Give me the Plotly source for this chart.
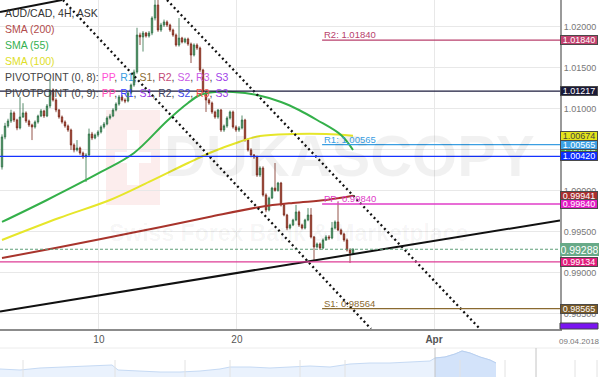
import plotly.graph_objects as go

# ---------------- data ----------------
bar_index = list(range(118))
opens = [1.00292, 1.00658, 1.00792, 1.00853, 1.00951, 1.00865, 1.00768, 1.00902, 1.00951, 1.00853,
         1.00804, 1.00780, 1.00841, 1.00914, 1.00975, 1.00914, 1.01036, 1.01231, 1.01109, 1.00987,
         1.00902, 1.00841, 1.00792, 1.00743, 1.00560, 1.00499, 1.00523, 1.00462, 1.00414, 1.00438,
         1.00694, 1.00645, 1.00682, 1.00719, 1.00780, 1.00816, 1.00889, 1.00914, 1.00987, 1.01060,
         1.01146, 1.01109, 1.01097, 1.01194, 1.01292, 1.01451, 1.01902, 1.01878, 1.01926, 1.01890,
         1.01926, 1.02109, 1.02268, 1.01963, 1.02024, 1.02061, 1.02024, 1.01963, 1.01902, 1.01780,
         1.01865, 1.01817, 1.01853, 1.01792, 1.01658, 1.01780, 1.01743, 1.01475, 1.01207, 1.01109,
         1.01072, 1.00963, 1.00902, 1.00987, 1.00743, 1.00792, 1.00889, 1.00963, 1.00780, 1.00743,
         1.00768, 1.00865, 1.00621, 1.00499, 1.00438, 1.00414, 1.00194, 1.00279, 0.99950, 0.99767,
         0.99913, 1.00035, 1.00005, 1.00096, 0.99828, 0.99706, 0.99547, 0.99584, 0.99645, 0.99743,
         0.99584, 0.99547, 0.99645, 0.99706, 0.99438, 0.99316, 0.99352, 0.99303, 0.99401, 0.99438,
         0.99425, 0.99547, 0.99621, 0.99523, 0.99474, 0.99401, 0.99279, 0.99242]
highs = [1.00690, 1.00830, 1.00880, 1.00990, 1.00970, 1.00880, 1.01146, 1.01070, 1.00970, 1.00870,
         1.00820, 1.00860, 1.00930, 1.01000, 1.00990, 1.01060, 1.01353, 1.01250, 1.01130, 1.01000,
         1.00920, 1.00860, 1.00810, 1.00760, 1.00580, 1.00620, 1.00540, 1.00480, 1.00460, 1.00760,
         1.00720, 1.00700, 1.00740, 1.00800, 1.00840, 1.00910, 1.00940, 1.01010, 1.01080, 1.01170,
         1.01170, 1.01130, 1.01210, 1.01310, 1.01480, 1.01990, 1.01930, 1.01950, 1.01940, 1.01950,
         1.02130, 1.02400, 1.02330, 1.02050, 1.02090, 1.02080, 1.02040, 1.01980, 1.01920, 1.02109,
         1.01880, 1.01870, 1.01870, 1.01810, 1.01800, 1.01800, 1.01760, 1.01490, 1.01230, 1.01130,
         1.01090, 1.00980, 1.01000, 1.01000, 1.00810, 1.00910, 1.00980, 1.00980, 1.00800, 1.00790,
         1.00920, 1.00880, 1.00640, 1.00520, 1.00450, 1.00430, 1.00300, 1.00300, 0.99970, 0.99930,
         1.00050, 1.00340, 1.00110, 1.00110, 0.99840, 0.99720, 0.99600, 0.99660, 0.99830, 0.99760,
         0.99600, 0.99660, 0.99790, 0.99790, 0.99450, 0.99370, 0.99370, 0.99420, 0.99460, 0.99460,
         0.99621, 0.99640, 0.99865, 0.99540, 0.99490, 0.99420, 0.99300, 0.99300]
lows = [1.00260, 1.00630, 1.00770, 1.00830, 1.00840, 1.00740, 1.00750, 1.00890, 1.00830, 1.00780,
        1.00620, 1.00760, 1.00820, 1.00900, 1.00890, 1.00900, 1.01010, 1.01090, 1.00960, 1.00880,
        1.00820, 1.00770, 1.00720, 1.00500, 1.00470, 1.00480, 1.00440, 1.00390, 1.00109, 1.00420,
        1.00620, 1.00630, 1.00660, 1.00700, 1.00760, 1.00800, 1.00870, 1.00900, 1.00970, 1.01040,
        1.01090, 1.01070, 1.01080, 1.01180, 1.01270, 1.01430, 1.01780, 1.01700, 1.01870, 1.01870,
        1.01900, 1.02080, 1.01940, 1.01940, 1.02000, 1.02000, 1.01940, 1.01880, 1.01760, 1.01760,
        1.01800, 1.01800, 1.01770, 1.01560, 1.01640, 1.01720, 1.01450, 1.01180, 1.00963, 1.01050,
        1.00940, 1.00880, 1.00880, 1.00720, 1.00720, 1.00770, 1.00870, 1.00760, 1.00720, 1.00720,
        1.00750, 1.00600, 1.00480, 1.00410, 1.00390, 1.00170, 1.00170, 0.99930, 0.99740, 0.99750,
        0.99900, 0.99990, 0.99990, 0.99810, 0.99690, 0.99520, 0.99530, 0.99570, 0.99630, 0.99560,
        0.99530, 0.99530, 0.99630, 0.99420, 0.99157, 0.99300, 0.99280, 0.99290, 0.99390, 0.99400,
        0.99410, 0.99530, 0.99510, 0.99460, 0.99380, 0.99260, 0.99120, 0.99230]
closes = [1.00658, 1.00792, 1.00853, 1.00951, 1.00865, 1.00768, 1.00902, 1.00951, 1.00853, 1.00804,
          1.00780, 1.00841, 1.00914, 1.00975, 1.00914, 1.01036, 1.01231, 1.01109, 1.00987, 1.00902,
          1.00841, 1.00792, 1.00743, 1.00560, 1.00499, 1.00523, 1.00462, 1.00414, 1.00438, 1.00694,
          1.00645, 1.00682, 1.00719, 1.00780, 1.00816, 1.00889, 1.00914, 1.00987, 1.01060, 1.01146,
          1.01109, 1.01097, 1.01194, 1.01292, 1.01451, 1.01902, 1.01878, 1.01926, 1.01890, 1.01926,
          1.02109, 1.02268, 1.01963, 1.02024, 1.02061, 1.02024, 1.01963, 1.01902, 1.01780, 1.01865,
          1.01817, 1.01853, 1.01792, 1.01658, 1.01780, 1.01743, 1.01475, 1.01207, 1.01109, 1.01072,
          1.00963, 1.00902, 1.00987, 1.00743, 1.00792, 1.00889, 1.00963, 1.00780, 1.00743, 1.00768,
          1.00865, 1.00621, 1.00499, 1.00438, 1.00414, 1.00194, 1.00279, 0.99950, 0.99767, 0.99913,
          1.00035, 1.00005, 1.00096, 0.99828, 0.99706, 0.99547, 0.99584, 0.99645, 0.99743, 0.99584,
          0.99547, 0.99645, 0.99706, 0.99438, 0.99316, 0.99352, 0.99303, 0.99401, 0.99438, 0.99425,
          0.99547, 0.99621, 0.99523, 0.99474, 0.99401, 0.99279, 0.99242, 0.99288]

sma200_x = [0, 16, 33, 53, 69, 86, 97, 108, 117]
sma200_y = [0.99181, 0.99291, 0.99413, 0.99560, 0.99682, 0.99804, 0.99853, 0.99889, 0.99941]
sma55_x = [0, 15, 33, 44, 55, 62, 66, 71, 77, 85, 93, 99, 105, 113, 117]
sma55_y = [0.99621, 0.99889, 1.00231, 1.00463, 1.00853, 1.01072, 1.01170, 1.01207, 1.01207,
           1.01170, 1.01085, 1.00987, 1.00865, 1.00682, 1.00499]
sma100_x = [0, 19, 36, 49, 62, 70, 79, 86, 97, 108, 117]
sma100_y = [0.99401, 0.99669, 0.99889, 1.00109, 1.00340, 1.00475, 1.00597, 1.00670, 1.00694,
            1.00694, 1.00674]

pivot_names = ["R2", "R1", "PP", "S1"]
pivot_values = [1.01840, 1.00565, 0.99840, 0.98564]
pivot_colors = ["#b8416c", "#3a9ee2", "#e03cc8", "#8a6a30"]
pivot_start = 106.7

level_values = [1.01217, 1.00420, 0.99134]
level_colors = ["#1c1c3e", "#1433ff", "#de3c96"]
current_price = 0.99288

trend_x = [-0.667, 186.0]
trend_y = [0.98529, 0.99639]
trend2_x = [-0.667, 20.0]
trend2_y = [1.02183, 1.02329]
chan_lo_x = [20.3, 123.0]
chan_lo_y = [1.02329, 0.98317]
chan_hi_x = [55.0, 159.3]
chan_hi_y = [1.02329, 0.98317]

tick_pos = [32.3, 78.3, 144.0]
tick_text = ["10", "20", "<b>Apr</b>"]

price_labels = [1.01840, 1.01217, 1.00674, 1.00499, 1.00565, 1.00420, 0.99941, 0.99840, 0.99134, 0.98565]
price_label_bg = ["#c2416e", "#1a1a38", "#e4e41c", "#3cb44b", "#3ba0e4", "#0a2cff", "#a82e2e",
                  "#e21cc4", "#e21c7c", "#7a5a28"]
price_label_fg = ["white", "white", "#444444", "white", "white", "white", "white", "white", "white", "white"]

nav_t = [0, 20, 40, 60, 80, 100, 112, 118, 140, 160, 180, 200, 220, 230, 250, 270, 290, 310, 330, 350,
         370, 390, 410, 430, 435, 445, 455, 462, 470, 480, 490, 496]
nav_v = [8, 7, 9, 10, 11, 12, 12, 7, 6, 5, 5, 6, 8, 10, 10, 9, 10, 11, 10, 13,
         14, 14, 15, 16, 19, 20, 23, 26, 24, 20, 17, 14]
nav_sel_start = 435

# ---------------- geometry helpers (layout only) ----------------
W, H = 600, 377
PW = 560
TOP = 1.02329
BOT = 0.98315
XMIN, XMAX = -0.667, 186.0


def pxx(px):
    return px / PW


def pxy(py):
    return 1 - py / H


FONT = "Liberation Sans, Arial, sans-serif"

fig = go.Figure()

fig.add_trace(go.Candlestick(
    x=bar_index, open=opens, high=highs, low=lows, close=closes,
    increasing=dict(line=dict(color="#2f6e46", width=0.8), fillcolor="#4b9a66"),
    decreasing=dict(line=dict(color="#7a2a1c", width=0.8), fillcolor="#ad432e"),
    whiskerwidth=0, showlegend=False, hoverinfo="skip"))

fig.add_trace(go.Scatter(x=sma200_x, y=sma200_y, mode="lines", line=dict(color="#a8342c", width=2, shape="spline"),
                         showlegend=False, hoverinfo="skip"))
fig.add_trace(go.Scatter(x=sma100_x, y=sma100_y, mode="lines", line=dict(color="#e6e62a", width=2, shape="spline"),
                         showlegend=False, hoverinfo="skip"))
fig.add_trace(go.Scatter(x=sma55_x, y=sma55_y, mode="lines", line=dict(color="#34b04a", width=2, shape="spline"),
                         showlegend=False, hoverinfo="skip"))

for tx, ty in [(trend_x, trend_y), (trend2_x, trend2_y)]:
    fig.add_trace(go.Scatter(x=tx, y=ty, mode="lines", line=dict(color="#111111", width=2),
                             showlegend=False, hoverinfo="skip"))
for tx, ty in [(chan_lo_x, chan_lo_y), (chan_hi_x, chan_hi_y)]:
    fig.add_trace(go.Scatter(x=tx, y=ty, mode="lines", line=dict(color="#111111", width=2.3, dash="2px,3px"),
                             showlegend=False, hoverinfo="skip"))

# navigator
fig.add_trace(go.Scatter(x=nav_t, y=nav_v, mode="lines", fill="tozeroy", fillcolor="#eaf2fd",
                         line=dict(color="#c6daf4", width=1), xaxis="x2", yaxis="y2",
                         showlegend=False, hoverinfo="skip"))
sel_t = [t for t in nav_t if t >= nav_sel_start]
sel_v = [v for t, v in zip(nav_t, nav_v) if t >= nav_sel_start]
fig.add_trace(go.Scatter(x=sel_t, y=sel_v, mode="lines", fill="tozeroy", fillcolor="#d3e3fa",
                         line=dict(color="#b9d0f0", width=1), xaxis="x2", yaxis="y2",
                         showlegend=False, hoverinfo="skip"))

shapes = []
# watermark logo
shapes.append(dict(type="rect", xref="paper", yref="paper", x0=pxx(106), x1=pxx(160), y0=pxy(205), y1=pxy(110),
                   fillcolor="rgba(220,60,60,0.09)", line=dict(width=0), layer="below"))
shapes.append(dict(type="rect", xref="paper", yref="paper", x0=pxx(127), x1=pxx(139), y0=pxy(185), y1=pxy(130),
                   fillcolor="white", line=dict(width=0), layer="below"))
shapes.append(dict(type="rect", xref="paper", yref="paper", x0=pxx(115), x1=pxx(151), y0=pxy(163), y1=pxy(152),
                   fillcolor="white", line=dict(width=0), layer="below"))

# full width levels
for v, c in zip(level_values, level_colors):
    shapes.append(dict(type="line", xref="paper", yref="y", x0=0, x1=1, y0=v, y1=v,
                       line=dict(color=c, width=1.3)))
shapes.append(dict(type="line", xref="paper", yref="y", x0=0, x1=1, y0=current_price, y1=current_price,
                   line=dict(color="#5f9e78", width=1, dash="3px,2px")))
# pivot lines
for v, c in zip(pivot_values, pivot_colors):
    shapes.append(dict(type="line", xref="x", yref="y", x0=pivot_start, x1=XMAX, y0=v, y1=v,
                       line=dict(color=c, width=1.3)))

# navigator decoration
shapes.append(dict(type="line", xref="paper", yref="paper", x0=0, x1=W / PW, y0=pxy(348), y1=pxy(348),
                   line=dict(color="#ececec", width=1)))
for px in [23, 115, 185, 230, 300, 345, 460, 505, 575, 597]:
    shapes.append(dict(type="line", xref="paper", yref="paper", x0=pxx(px), x1=pxx(px), y0=pxy(360), y1=0,
                       line=dict(color="#e2e2e2", width=1)))
for px in [435, 536]:
    shapes.append(dict(type="line", xref="paper", yref="paper", x0=pxx(px), x1=pxx(px), y0=pxy(348), y1=0,
                       line=dict(color="#c4c4c4", width=1)))
# cut-off bottom label
shapes.append(dict(type="rect", xref="paper", yref="paper", x0=1, x1=pxx(598), y0=pxy(329), y1=pxy(323),
                   fillcolor="#7a14f0", line=dict(color="#444", width=1)))

annotations = []
# watermark text
annotations.append(dict(xref="paper", yref="paper", x=pxx(162), y=pxy(156), xanchor="left", yanchor="middle",
                        text="<b>DUKASCOPY</b>", showarrow=False,
                        font=dict(family=FONT, size=58, color="rgba(0,0,0,0.055)")))
annotations.append(dict(xref="paper", yref="paper", x=pxx(107), y=pxy(233), xanchor="left", yanchor="middle",
                        text="<b>Swiss Forex Bank &amp; Marketplace</b>", showarrow=False,
                        font=dict(family=FONT, size=23, color="rgba(0,0,0,0.045)")))

# legend block
legend_rows = [
    ("AUD/CAD, 4H, ASK", "#333333"),
    ("SMA (200)", "#b24c4c"),
    ("SMA (55)", "#34b050"),
    ("SMA (100)", "#dede28"),
    ("PIVOTPOINT (0, 8): <span style='color:#ff4fd6'>PP</span>, <span style='color:#3a9ee2'>R1</span>, "
     "<span style='color:#8a6a30'>S1</span>, <span style='color:#c24a78'>R2</span>, "
     "<span style='color:#c85ae6'>S2</span>, <span style='color:#c85ae6'>R3</span>, "
     "<span style='color:#a040e8'>S3</span>", "#444444"),
    ("PIVOTPOINT (0, 9): <span style='color:#ff4fb8'>PP</span>, <span style='color:#3c46ff'>R1</span>, "
     "<span style='color:#9a3ae6'>S1</span>, <span style='color:#404060'>R2</span>, "
     "<span style='color:#4046e6'>S2</span>, <span style='color:#f0504a'>R3</span>, "
     "<span style='color:#9a3ae6'>S3</span>", "#444444"),
]
for i, (txt, col) in enumerate(legend_rows):
    annotations.append(dict(xref="paper", yref="paper", x=pxx(3), y=pxy(13 + 16 * i), xanchor="left",
                            yanchor="middle", text=txt, showarrow=False,
                            font=dict(family=FONT, size=10.5, color=col)))

# pivot text labels
for n, v, c in zip(pivot_names, pivot_values, pivot_colors):
    annotations.append(dict(xref="x", yref="y", x=pivot_start, y=v, xanchor="left", yanchor="bottom",
                            text=f"{n}: {v:.5f}", showarrow=False, yshift=-2,
                            font=dict(family=FONT, size=9.5, color=c)))

# right price boxes
for v, bg, fg in zip(price_labels, price_label_bg, price_label_fg):
    annotations.append(dict(xref="paper", yref="y", x=1, y=v, xanchor="left", yanchor="middle",
                            text=f"{v:.5f}", showarrow=False, bgcolor=bg, bordercolor="#4a4a4a",
                            borderwidth=1, borderpad=0, width=36, height=8, align="center",
                            font=dict(family=FONT, size=9, color=fg)))
annotations.append(dict(xref="paper", yref="y", x=1, y=current_price, xanchor="left", yanchor="middle",
                        text=f"{current_price:.5f}", showarrow=False, bgcolor="#68aa88",
                        bordercolor="#68aa88", borderwidth=1, borderpad=0, width=37, height=11,
                        align="center", font=dict(family=FONT, size=10.5, color="white")))
annotations.append(dict(xref="paper", yref="paper", x=pxx(579), y=pxy(341), xanchor="center",
                        yanchor="middle", text="09.04.2018", showarrow=False,
                        font=dict(family=FONT, size=8, color="#777777")))

fig.update_layout(
    width=W, height=H,
    margin=dict(l=0, r=W - PW, t=0, b=0),
    paper_bgcolor="white", plot_bgcolor="white",
    showlegend=False, boxgap=0.32, hovermode=False,
    shapes=shapes, annotations=annotations,
    xaxis=dict(domain=[0, 1], range=[XMIN, XMAX], tickvals=tick_pos, ticktext=tick_text,
               showgrid=True, gridcolor="#e8e8e8", gridwidth=1, zeroline=False,
               showline=True, linecolor="#8c8c8c", linewidth=1.5, ticks="",
               tickfont=dict(family=FONT, size=10, color="#555555"),
               rangeslider=dict(visible=False), anchor="y"),
    yaxis=dict(domain=[48 / H, 1], range=[BOT, TOP], side="right", tick0=0, dtick=0.005,
               tickformat=".5f", showgrid=True, gridcolor="#e8e8e8", zeroline=False,
               showline=True, linecolor="#9a9a9a", linewidth=2, ticks="",
               tickfont=dict(family=FONT, size=9, color="#777777"), anchor="x"),
    xaxis2=dict(domain=[0, 1], range=[0, PW], anchor="y2", showgrid=False, zeroline=False,
                showticklabels=False, showline=False),
    yaxis2=dict(domain=[0, 28 / H], range=[0, 28], anchor="x2", showgrid=False, zeroline=False,
                showticklabels=False, showline=False),
)

fig.write_html("out.html")
